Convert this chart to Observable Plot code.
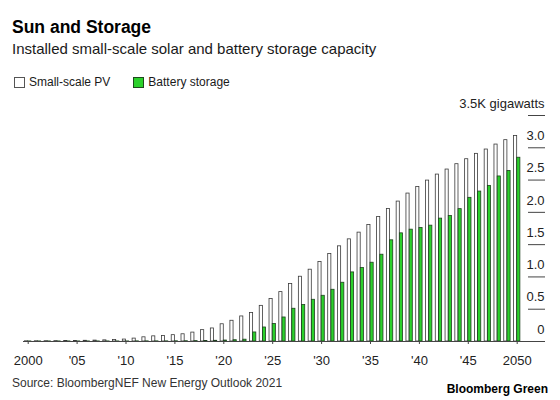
<!DOCTYPE html>
<html>
<head>
<meta charset="utf-8">
<script src="https://cdn.jsdelivr.net/npm/d3@7"></script>
<script src="https://cdn.jsdelivr.net/npm/@observablehq/plot@0.6"></script>
<style>
  body { margin: 0; background: #fff; font-family: "Liberation Sans", Arial, sans-serif; color: #000; }
  #wrap { position: relative; width: 560px; height: 400px; overflow: hidden; }
  .abs { position: absolute; white-space: nowrap; }
  #title { left: 12px; top: 17px; font-size: 17.5px; line-height: 20px; font-weight: bold; }
  #subtitle { left: 12px; top: 40px; font-size: 15px; line-height: 18px; color: #1a1a1a; }
  #legend { left: 14px; top: 75px; height: 14px; display: flex; align-items: center; font-size: 12px; line-height: 14px; color: #1a1a1a; }
  .item { display: flex; align-items: center; margin-right: 23px; }
  .sw { width: 11px; height: 11px; box-sizing: border-box; border: 1px solid #555; margin-right: 4px; }
  #chart { left: 0; top: 90px; }
  #source { left: 12px; top: 376px; font-size: 12px; line-height: 14px; color: #333; }
  #brand { right: 12px; top: 382px; font-size: 12px; line-height: 14px; font-weight: bold; color: #000; }
</style>
</head>
<body>
<div id="wrap">
  <div id="title" class="abs">Sun and Storage</div>
  <div id="subtitle" class="abs">Installed small-scale solar and battery storage capacity</div>
  <div id="legend" class="abs"></div>
  <div id="chart" class="abs"></div>
  <div id="source" class="abs">Source: BloombergNEF New Energy Outlook 2021</div>
  <div id="brand" class="abs">Bloomberg Green</div>
</div>
<script>
// ---- data (thousand gigawatts) ----
const years = [
  2000, 2001, 2002, 2003, 2004, 2005, 2006, 2007, 2008, 2009,
  2010, 2011, 2012, 2013, 2014, 2015, 2016, 2017, 2018, 2019,
  2020, 2021, 2022, 2023, 2024, 2025, 2026, 2027, 2028, 2029,
  2030, 2031, 2032, 2033, 2034, 2035, 2036, 2037, 2038, 2039,
  2040, 2041, 2042, 2043, 2044, 2045, 2046, 2047, 2048, 2049, 2050
];
const pvValues = [
  0.003, 0.004, 0.005, 0.006, 0.007, 0.009, 0.011, 0.014, 0.018, 0.022,
  0.030, 0.045, 0.065, 0.080, 0.085, 0.098, 0.112, 0.138, 0.176, 0.202,
  0.267, 0.321, 0.388, 0.440, 0.552, 0.657, 0.765, 0.889, 1.003, 1.112,
  1.231, 1.355, 1.474, 1.582, 1.686, 1.805, 1.929, 2.053, 2.167, 2.291,
  2.394, 2.492, 2.585, 2.663, 2.746, 2.823, 2.906, 2.973, 3.050, 3.118, 3.183
];
const batteryValues = [
  0.001, 0.001, 0.001, 0.001, 0.001, 0.001, 0.001, 0.001, 0.001, 0.001,
  0.001, 0.002, 0.002, 0.002, 0.002, 0.003, 0.004, 0.006, 0.008, 0.011,
  0.015, 0.020, 0.028, 0.140, 0.217, 0.272, 0.372, 0.507, 0.564, 0.646,
  0.708, 0.801, 0.910, 1.070, 1.138, 1.220, 1.344, 1.567, 1.675, 1.732,
  1.758, 1.794, 1.903, 1.944, 2.050, 2.225, 2.322, 2.410, 2.556, 2.642, 2.846
];
const seriesNames = ["Small-scale PV", "Battery storage"];
const seriesColors = ["#ffffff", "#2bd12b"];
const xTickYears = [2000, 2005, 2010, 2015, 2020, 2025, 2030, 2035, 2040, 2045, 2050];
const xTickLabels = ["2000", "'05", "'10", "'15", "'20", "'25", "'30", "'35", "'40", "'45", "2050"];
const yTicks = [0, 0.5, 1, 1.5, 2, 2.5, 3, 3.5];
const yTickLabels = ["0", "0.5", "1.0", "1.5", "2.0", "2.5", "3.0", "3.5K gigawatts"];

const rows = years.map((year, i) => ({year, pv: pvValues[i], battery: batteryValues[i]}));

// ---- legend ----
const legend = document.getElementById("legend");
seriesNames.forEach((name, i) => {
  const item = document.createElement("div");
  item.className = "item";
  const sw = document.createElement("span");
  sw.className = "sw";
  sw.style.background = seriesColors[i];
  sw.style.borderColor = i === 0 ? "#555" : "#1d4a1d";
  const t = document.createElement("span");
  t.textContent = name;
  item.appendChild(sw);
  item.appendChild(t);
  legend.appendChild(item);
});

// ---- chart ----
const chart = Plot.plot({
  width: 560,
  height: 280,
  marginTop: 25,
  marginBottom: 29,
  marginLeft: 23,
  marginRight: 16,
  style: {fontFamily: "'Liberation Sans', Arial, sans-serif", color: "#222", background: "transparent"},
  x: {type: "band", domain: years, range: [21.1, 523.3], padding: 0.35, label: null},
  y: {domain: [0, 3.5], label: null},
  marks: [
    Plot.barY(rows, {x: "year", y: "pv", fill: seriesColors[0], stroke: "#3a3a3a", strokeWidth: 0.8, insetRight: 3.2}),
    Plot.barY(rows, {x: "year", y: "battery", fill: seriesColors[1], stroke: "#1f3f1f", strokeWidth: 0.8, insetLeft: 3.2}),
    Plot.ruleY([0], {stroke: "#444"}),
    Plot.axisX(xTickYears, {
      tickSize: 3, tickPadding: 11, fontSize: 13, stroke: "#444", fill: "#222", label: null,
      tickFormat: (d) => xTickLabels[xTickYears.indexOf(d)]
    }),
    Plot.axisY(yTicks, {anchor: "right", tickSize: 17, dx: -17, fill: "none", stroke: "#444", label: null}),
    Plot.axisY(yTicks, {
      anchor: "right", tickSize: 0, tickPadding: 0, textAnchor: "end", dy: -12, fontSize: 13, fill: "#222", label: null,
      tickFormat: (d) => yTickLabels[yTicks.indexOf(d)]
    })
  ]
});
document.getElementById("chart").appendChild(chart);
</script>
</body>
</html>
